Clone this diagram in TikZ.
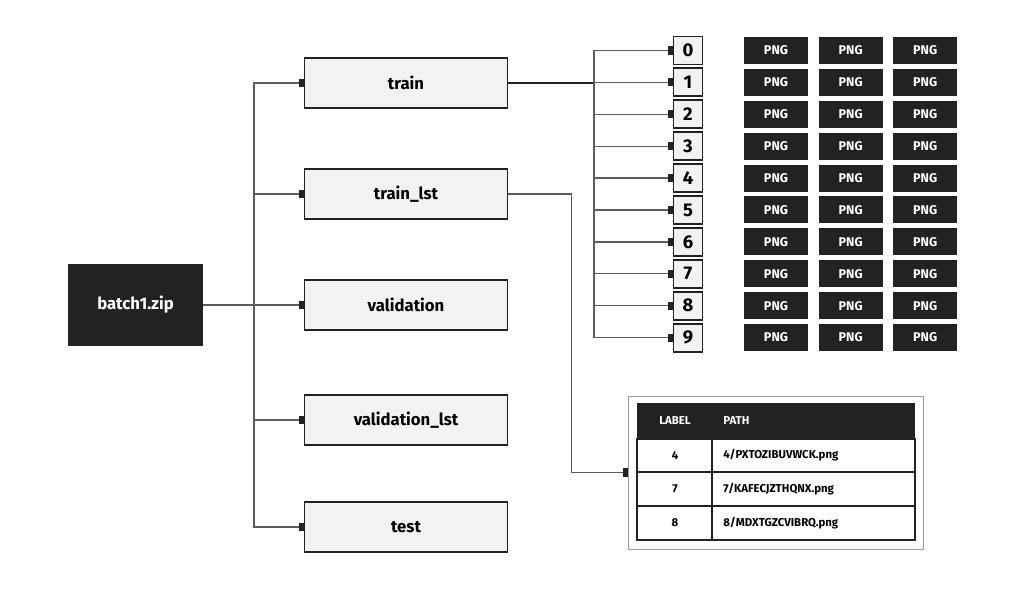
\documentclass[tikz,border=0pt]{standalone}
\usepackage{fontspec}
\setmainfont{Fira Sans}
\usetikzlibrary{arrows.meta}
\definecolor{ink}{HTML}{222222}
\definecolor{paper}{HTML}{F2F2F2}
\definecolor{wiregray}{HTML}{5C5C5C}
\begin{document}
\begin{tikzpicture}[x=0.02cm,y=-0.02cm]
\tikzstyle{every node}+=[inner sep=0pt]
\tikzstyle{zipbox}=[fill=ink, text=white, minimum width=2.7cm, minimum height=1.64cm, font=\bfseries\fontsize{9.5}{11}\selectfont]
\tikzstyle{folder}=[draw=ink, line width=1.1pt, fill=paper, minimum width=4.06cm, minimum height=1cm, font=\bfseries\fontsize{9.5}{11}\selectfont]
\tikzstyle{digit}=[draw=ink, line width=1.1pt, fill=paper, minimum width=0.58cm, minimum height=0.56cm, font=\bfseries\fontsize{10.5}{12}\selectfont]
\tikzstyle{png}=[fill=ink, text=white, minimum width=1.28cm, minimum height=0.54cm, font=\bfseries\fontsize{7.2}{8}\selectfont]
\tikzstyle{cell}=[font=\bfseries\fontsize{6.5}{8}\selectfont]
\tikzstyle{wire}=[draw=wiregray, line width=0.7pt, -{Rectangle[length=2.6pt,width=4.6pt,color=ink,fill=ink]}]
\useasboundingbox (0,0) rectangle (1024,590);
\node[zipbox] (zip) at (135.5,305) {batch1.zip};
\node[folder] (train) at (406,83) {train};
\node[folder] (tlst) at (406,194) {train\_lst};
\node[folder] (val) at (406,305) {validation};
\node[folder] (vlst) at (406,420) {validation\_lst};
\node[folder] (test) at (406,527) {test};
\coordinate (trunk) at (254,305);
\draw[wire] (zip.east) -- (val.west);
\foreach \n in {train,tlst,vlst,test}
  \draw[wire] (trunk) |- (\n.west);
\foreach \i in {0,...,9} {
  \node[digit] (d\i) at (688,50.5+31.9*\i) {\i};
  \foreach \c in {0,1,2}
    \node[png] (p\i\c) at (776+74.6*\c,50.5+31.9*\i) {PNG};
}
\coordinate (bus) at (594,83);
\draw[draw=ink, line width=0.7pt] (train.east) -- (bus);
\foreach \i in {0,...,9}
  \draw[wire] (bus) |- (d\i.west);
\node[draw=gray!80, line width=0.5pt, minimum width=5.9cm, minimum height=3.06cm] (lst) at (775.5,472.5) {};
\fill[ink] (637,403) rectangle (915,439);
\draw[ink, line width=0.9pt] (637,439) rectangle (915,540);
\draw[ink, line width=0.9pt] (637,472) -- (915,472) (637,506) -- (915,506) (712,439) -- (712,540);
\node[cell, text=white] (hlabel) at (675,421) {LABEL};
\node[cell, text=white, anchor=west] (hpath) at (723,421) {PATH};
\foreach \r/\l/\p in {455.5/4/{4/PXTOZIBUVWCK.png},489/7/{7/KAFECJZTHQNX.png},523/8/{8/MDXTGZCVIBRQ.png}} {
  \node[cell] (l\l) at (675,\r) {\l};
  \node[cell, anchor=west] (f\l) at (723,\r) {\p};
}
\draw[wire] (tlst.east) -- ++(63,0) |- (lst.west);
\end{tikzpicture}
\end{document}
